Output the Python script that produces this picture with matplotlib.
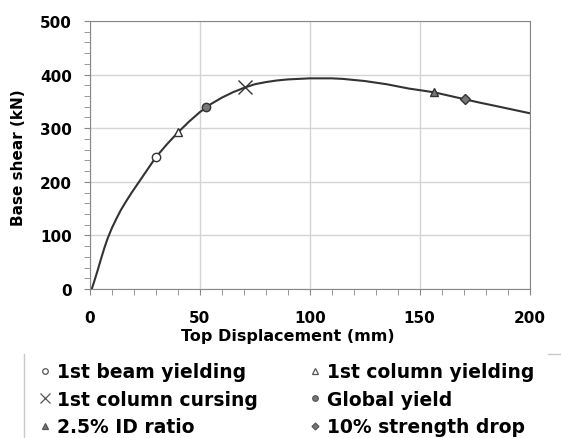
# Pushover curve: base shear vs top displacement with damage milestones
import matplotlib.pyplot as plt
from matplotlib.lines import Line2D
from matplotlib.ticker import MultipleLocator

plt.rcParams['font.family'] = ['DejaVu Sans']
plt.rcParams['font.weight'] = 'bold'

# === data ===
disp = [0.8, 2, 3.5, 5, 6.5, 8, 10, 12, 14, 16.5, 19, 22, 25, 28, 30, 35, 40,
        45, 50, 55, 60, 65, 70.5, 75, 80, 85, 90, 95, 100, 105, 110, 115, 120,
        125, 130, 135, 140, 145, 150, 156.5, 163, 170.5, 177, 184, 192, 200]
shear = [0, 15, 35, 56, 76, 94, 114, 131, 147, 164, 180, 198, 216, 234, 246,
         270, 292, 312, 330, 345, 357, 367, 376, 382, 386, 389, 391, 392, 393,
         393, 393, 392, 390, 388, 385, 382, 378, 374, 371, 367, 361, 354, 348,
         342, 335, 328]

event_names = ["1st beam yielding", "1st column yielding", "1st column cursing",
               "Global yield", "2.5% ID ratio", "10% strength drop"]
event_disp = [30, 40, 70.5, 52.6, 156.5, 170.5]
event_shear = [246, 292, 376, 339, 367, 354]
event_marker = ["o", "^", "x", "o", "^", "D"]
event_face = ["white", "white", "none", "#777777", "#777777", "#777777"]
event_size = [6, 6, 10, 6, 6, 5]
legend_size = [4, 4.5, 7, 4, 4.5, 3.5]

# === plot ===
fig = plt.figure(figsize=(5.61, 4.39), dpi=100)
ax = fig.add_axes([0.1604, 0.3394, 0.7835, 0.6105])

ax.plot(disp, shear, color="#333333", lw=1.5, zorder=2)

handles = []
for name, x, y, m, fc, ms, lms in zip(event_names, event_disp, event_shear,
                                       event_marker, event_face, event_size,
                                       legend_size):
    ax.plot([x], [y], marker=m, ms=ms, mfc=fc, mec="#333333", mew=1.0,
            ls="none", zorder=3)
    handles.append(Line2D([], [], marker=m, ms=lms, mfc=fc, mec="#555555",
                          mew=0.9, ls="none", label=name))

ax.set_xlim(0, 200)
ax.set_ylim(0, 500)
ax.xaxis.set_major_locator(MultipleLocator(50))
ax.xaxis.set_minor_locator(MultipleLocator(10))
ax.yaxis.set_major_locator(MultipleLocator(100))
ax.yaxis.set_minor_locator(MultipleLocator(20))
ax.grid(True, which="major", color="#d4d4d4", lw=1.0, zorder=0)
for s in ax.spines.values():
    s.set_color("#888888")
ax.tick_params(which="both", direction="out", color="#888888", length=4,
               labelsize=11)
ax.tick_params(axis="x", pad=11)
ax.tick_params(axis="y", pad=9)
ax.set_xlabel("Top Displacement (mm)", fontsize=11.5, fontweight="bold")
ax.set_ylabel("Base shear (kN)", fontsize=11, fontweight="bold")
ax.xaxis.set_label_coords((288 - 90) / 440, -39 / 268)
ax.yaxis.set_label_coords(-64 / 440, (290 - 158) / 268)

# legend laid out row-wise like the original (2 columns)
order = [0, 2, 4, 1, 3, 5]
leg = fig.legend([handles[i] for i in order], [event_names[i] for i in order],
                 ncol=2, loc="upper left", bbox_to_anchor=(0.057, 0.19),
                 frameon=False, fontsize=13.5, handlelength=0.6,
                 handletextpad=0.35, columnspacing=2.73, labelspacing=0.46,
                 borderaxespad=0)

# partial legend border like the source
fig.add_artist(Line2D([24 / 561, 24 / 561], [0, 1 - 355 / 439],
                      color="#c8c8c8", lw=1))
fig.add_artist(Line2D([548 / 561, 1], [1 - 355 / 439, 1 - 355 / 439],
                      color="#c8c8c8", lw=1))

fig.savefig("out.png", dpi=100)
